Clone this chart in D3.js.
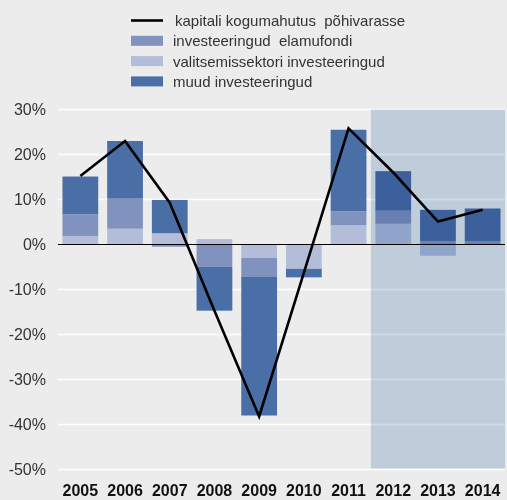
<!DOCTYPE html>
<html>
<head>
<meta charset="utf-8">
<script src="https://cdn.jsdelivr.net/npm/d3@7"></script>
<style>
  body { margin: 0; background: #ebeceb; }
  svg { display: block; font-family: "Liberation Sans", Arial, sans-serif; }
  .grid line { stroke: #fff; stroke-width: 1.5; }
  .ytick { font-size: 16px; fill: #333; }
  .xtick { font-size: 16px; font-weight: bold; fill: #111; }
  .legend text { font-size: 15px; fill: #333; white-space: pre; }
</style>
</head>
<body>
<div id="chart"></div>
<script>
const years = ["2005", "2006", "2007", "2008", "2009", "2010", "2011", "2012", "2013", "2014"];
// stacked components, % change
const valitsemissektori = [1.9, 3.5, 2.5, 1.2, -3.0, -5.4, 4.3, 4.6, -2.5, 0];
const elamufondi = [4.8, 6.7, -0.5, -4.9, -4.1, 0, 3.1, 2.9, 0.7, 0.7];
const muud = [8.4, 12.8, 7.4, -9.8, -30.9, -1.9, 18.1, 8.8, 7.0, 7.3];
// total line
const kogumahutus = [15.2, 23.0, 9.3, -14.7, -38.2, -6.3, 25.8, 16.0, 5.1, 7.7];
const yTicks = [30, 20, 10, 0, -10, -20, -30, -40, -50];
const forecastYears = ["2012", "2013", "2014"];

const seriesNames = ["valitsemissektori", "elamufondi", "muud"];
const colors = { valitsemissektori: "#b3bcd9", elamufondi: "#8192be", muud: "#4a6ea6" };
const legendItems = [
  { label: "kapitali kogumahutus  põhivarasse", type: "line" },
  { label: "investeeringud  elamufondi", key: "elamufondi" },
  { label: "valitsemissektori investeeringud", key: "valitsemissektori" },
  { label: "muud investeeringud", key: "muud" }
];

const W = 507, H = 500;
const svg = d3.select("#chart").append("svg").attr("width", W).attr("height", H);

const x = d3.scaleBand().domain(years).range([58, 505]).paddingInner(0.2).paddingOuter(0.1);
const y = d3.scaleLinear().domain([-50, 30]).range([469.5, 109.5]);

// gridlines
svg.append("g").attr("class", "grid").selectAll("line")
  .data(yTicks.filter(d => d !== 0)).enter().append("line")
  .attr("x1", 58).attr("x2", 505)
  .attr("y1", d => y(d)).attr("y2", d => y(d));

// y labels
svg.append("g").selectAll("text")
  .data(yTicks).enter().append("text")
  .attr("class", "ytick")
  .attr("x", 46).attr("y", d => y(d)).attr("dy", "0.36em")
  .attr("text-anchor", "end")
  .text(d => d + "%");

// stacked bars
const rows = years.map((yr, i) => ({
  year: yr,
  valitsemissektori: valitsemissektori[i],
  elamufondi: elamufondi[i],
  muud: muud[i]
}));
const stack = d3.stack().keys(seriesNames).offset(d3.stackOffsetDiverging);
const layers = stack(rows);

svg.append("g").selectAll("g")
  .data(layers).enter().append("g")
  .attr("fill", d => colors[d.key])
  .selectAll("rect")
  .data(d => d).enter().append("rect")
  .attr("x", d => x(d.data.year))
  .attr("width", x.bandwidth())
  .attr("y", d => y(Math.max(d[0], d[1])))
  .attr("height", d => Math.abs(y(d[0]) - y(d[1])));

// forecast shading
const fx0 = x(forecastYears[0]) - x.step() * x.paddingInner() / 2;
svg.append("rect")
  .attr("x", fx0).attr("width", 505 - fx0)
  .attr("y", y(30)).attr("height", y(-50) - y(30) - 1)
  .attr("fill", "#cfdeee")
  .style("mix-blend-mode", "multiply");

// zero line
svg.append("line")
  .attr("x1", 58).attr("x2", 505)
  .attr("y1", y(0)).attr("y2", y(0))
  .attr("stroke", "#000").attr("stroke-width", 1.2);

// total line
const line = d3.line()
  .x((d, i) => x(years[i]) + x.bandwidth() / 2)
  .y(d => y(d));
svg.append("path")
  .datum(kogumahutus)
  .attr("d", line)
  .attr("fill", "none")
  .attr("stroke", "#000")
  .attr("stroke-width", 2.6);

// x labels
svg.append("g").selectAll("text")
  .data(years).enter().append("text")
  .attr("class", "xtick")
  .attr("x", d => x(d) + x.bandwidth() / 2)
  .attr("y", 496)
  .attr("text-anchor", "middle")
  .text(d => d);

// legend
const lg = svg.append("g").attr("class", "legend");
legendItems.forEach((it, i) => {
  const cy = 20.5 + i * 20.3;
  if (it.type === "line") {
    lg.append("line").attr("x1", 131).attr("x2", 163).attr("y1", cy).attr("y2", cy)
      .attr("stroke", "#000").attr("stroke-width", 2.6);
  } else {
    lg.append("rect").attr("x", 131).attr("y", cy - 5).attr("width", 32).attr("height", 10)
      .attr("fill", colors[it.key]);
  }
  lg.append("text").attr("x", it.type === "line" ? 175 : 173).attr("y", cy).attr("dy", "0.36em")
    .text(it.label);
});
</script>
</body>
</html>
